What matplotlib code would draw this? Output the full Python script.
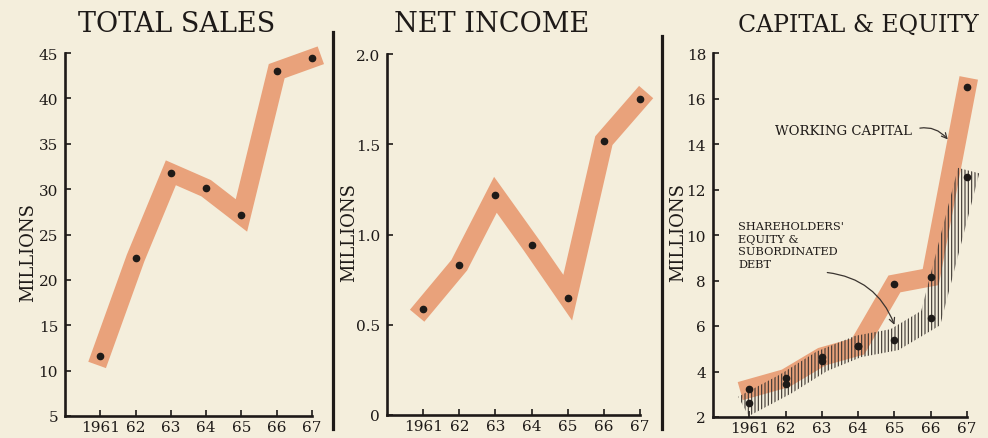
import numpy as np
import matplotlib
matplotlib.use("Agg")
import matplotlib.pyplot as plt
from matplotlib.lines import Line2D
from matplotlib.patches import Polygon

# ---------------- data ----------------
years = [1961, 1962, 1963, 1964, 1965, 1966, 1967]
year_labels = ["1961", "62", "63", "64", "65", "66", "67"]

total_sales = [11.6, 22.4, 31.8, 30.1, 27.1, 43.0, 44.4]
net_income = [0.59, 0.83, 1.22, 0.94, 0.65, 1.52, 1.75]
working_capital = [3.25, 3.7, 4.65, 5.1, 7.85, 8.15, 16.5]
equity_sub_debt = [2.6, 3.45, 4.45, 5.1, 5.4, 6.35, 12.55]

sales_ticks = [5, 10, 15, 20, 25, 30, 35, 40, 45]
income_ticks = [0, 0.5, 1.0, 1.5, 2.0]
income_tick_labels = ["0", "0.5", "1.0", "1.5", "2.0"]
capital_ticks = [2, 4, 6, 8, 10, 12, 14, 16, 18]

titles = ["TOTAL SALES", "NET INCOME", "CAPITAL & EQUITY"]

# ---------------- style ----------------
BG = "#F4EEDC"
BAND = "#E9A27B"
INK = "#1E1A18"
FONT = "DejaVu Serif"
plt.rcParams["hatch.linewidth"] = 0.8

fig = plt.figure(figsize=(9.88, 4.39), dpi=100, facecolor=BG)

W, H = 988.0, 439.0
def axrect(l, r, b, t):
    return [l / W, 1 - b / H, (r - l) / W, (b - t) / H]

ax1 = fig.add_axes(axrect(65, 312, 417, 54))
ax2 = fig.add_axes(axrect(387, 640, 416, 55))
ax3 = fig.add_axes(axrect(713, 967, 418, 54))

BAND_LW = 13.5

def style(ax, ylim, yticks, ylabels=None):
    ax.set_facecolor(BG)
    ax.set_xlim(1960, 1967)
    ax.set_ylim(*ylim)
    for s in ["top", "right"]:
        ax.spines[s].set_visible(False)
    for s in ["left", "bottom"]:
        ax.spines[s].set_linewidth(1.9)
        ax.spines[s].set_color(INK)
    ax.set_xticks(years)
    ax.set_xticklabels(year_labels, fontfamily=FONT, fontsize=11, color=INK)
    ax.set_yticks(yticks)
    if ylabels is None:
        ylabels = [str(t) for t in yticks]
    ax.set_yticklabels(ylabels, fontfamily=FONT, fontsize=11, color=INK)
    ax.tick_params(axis="both", direction="in", length=4, width=1.2, color=INK)
    ax.tick_params(axis="x", pad=3)
    ax.tick_params(axis="y", pad=5)

style(ax1, (5, 45), sales_ticks)
style(ax2, (0, 2.0), income_ticks, income_tick_labels)
style(ax3, (2, 18), capital_ticks)

def band(ax, y):
    ax.plot(years, y, color=BAND, lw=BAND_LW, solid_joinstyle="miter",
            solid_capstyle="projecting", zorder=2, clip_on=False)

def dots(ax, y):
    ax.plot(years, y, "o", color=INK, ms=4.5, zorder=5, clip_on=False)

def band_polygon(ax, x, y, half):
    pts = ax.transData.transform(np.column_stack([x, y]).astype(float))
    d = np.diff(pts, axis=0)
    d /= np.linalg.norm(d, axis=1)[:, None]
    n = np.column_stack([-d[:, 1], d[:, 0]])
    offs = []
    for i in range(len(pts)):
        if i == 0:
            m = n[0]
        elif i == len(pts) - 1:
            m = n[-1]
        else:
            m = n[i - 1] + n[i]
            m = m / np.linalg.norm(m)
            m = m / np.dot(m, n[i])
        offs.append(m * half)
    offs = np.array(offs)
    p = pts.copy()
    p[0] -= d[0] * half * 0.6
    p[-1] += d[-1] * half * 0.6
    upper = p + offs
    lower = p - offs
    poly = np.vstack([upper, lower[::-1]])
    return ax.transData.inverted().transform(poly)

band(ax1, total_sales)
dots(ax1, total_sales)
band(ax2, net_income)
dots(ax2, net_income)

band(ax3, working_capital)
poly = band_polygon(ax3, years, equity_sub_debt, 11.0)
ax3.add_patch(Polygon(poly, closed=True, facecolor="none", edgecolor="#3a3430",
                      linewidth=0, hatch="|||||", zorder=3, clip_on=False))
dots(ax3, working_capital)
dots(ax3, equity_sub_debt)

# annotations
ax3.annotate("WORKING CAPITAL", xy=(1966.47, 14.2), xytext=(1961.7, 14.6),
             fontfamily=FONT, fontsize=9.5, color=INK, va="center", ha="left",
             arrowprops=dict(arrowstyle="->", color="#3a3430", lw=0.9,
                             shrinkA=4, shrinkB=0, relpos=(1.0, 0.5),
                             connectionstyle="arc3,rad=-0.35"))
ax3.text(1960.7, 10.6, "SHAREHOLDERS'\nEQUITY &\nSUBORDINATED\nDEBT",
         fontfamily=FONT, fontsize=8.2, color=INK, va="top", ha="left",
         linespacing=1.3)
ax3.annotate("", xy=(1965.0, 6.05), xytext=(1963.15, 8.35),
             arrowprops=dict(arrowstyle="->", color="#3a3430", lw=0.9,
                             shrinkA=0, shrinkB=0,
                             connectionstyle="arc3,rad=-0.3"))

# titles
for cx, t, fs in zip([177, 492, 858], titles, [19.5, 19.5, 17]):
    fig.text(cx / W, 1 - 25 / H, t, ha="center", va="center",
             fontfamily=FONT, fontsize=fs, color=INK)

# y labels
for x, y in [(28, 253), (349, 233), (678, 233)]:
    fig.text(x / W, 1 - y / H, "MILLIONS", rotation=90, ha="center",
             va="center", fontfamily=FONT, fontsize=13, color=INK)

# separators
fig.add_artist(Line2D([333 / W, 333 / W], [1 - 430 / H, 1 - 33 / H],
                      color=INK, lw=2.3, transform=fig.transFigure))
fig.add_artist(Line2D([662 / W, 662 / W], [1 - 430 / H, 1 - 37 / H],
                      color=INK, lw=2.3, transform=fig.transFigure))

fig.savefig("out.png", dpi=100, facecolor=BG)
